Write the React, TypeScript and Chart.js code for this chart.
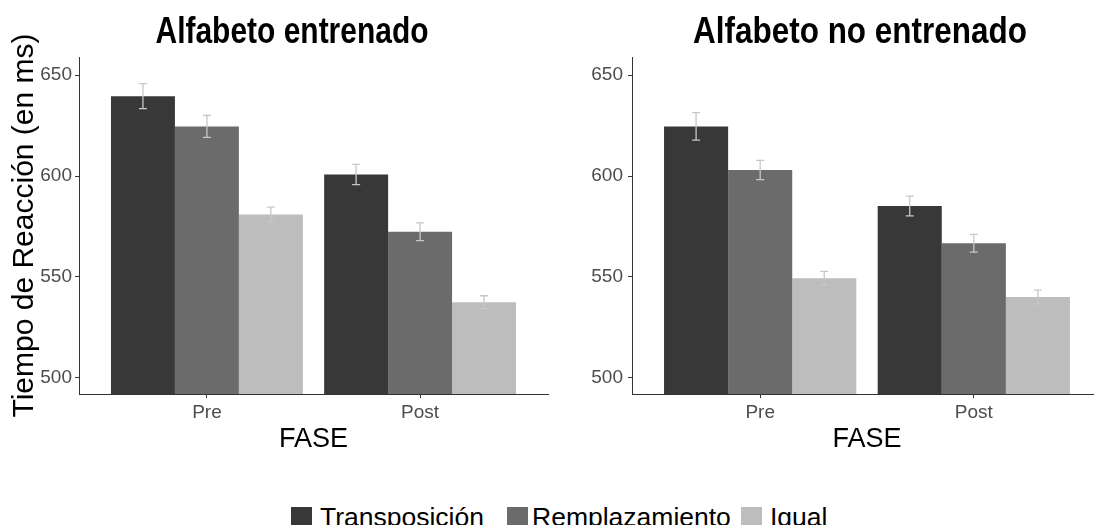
import React, { useEffect, useRef } from 'react';
import { Chart, registerables } from 'chart.js';

Chart.register(...registerables);

// ---------- data ----------
const categories = ['Pre', 'Post'];
const seriesNames = ['Transposición', 'Remplazamiento', 'Igual'];
const seriesColors = ['#383838', '#6b6b6b', '#bdbdbd'];
const yTicks = [500, 550, 600, 650];

// Alfabeto entrenado
const trainedTransposicion = [639.6, 600.8];
const trainedRemplazamiento = [624.6, 572.4];
const trainedIgual = [581.0, 537.5];
const trainedTransposicionSE = [6.2, 5.0];
const trainedRemplazamientoSE = [5.4, 4.4];
const trainedIgualSE = [3.6, 3.2];

// Alfabeto no entrenado
const untrainedTransposicion = [624.6, 585.2];
const untrainedRemplazamiento = [603.0, 566.7];
const untrainedIgual = [549.4, 540.1];
const untrainedTransposicionSE = [6.8, 4.9];
const untrainedRemplazamientoSE = [4.8, 4.4];
const untrainedIgualSE = [3.4, 3.4];

const FONT = '"Liberation Sans", Arial, Helvetica, sans-serif';

const errorBarPlugin = {
  id: 'errorBars',
  afterDatasetsDraw(chart: any, _args: any, opts: any) {
    const { ctx } = chart;
    const yScale = chart.scales.y;
    const errs: number[][] = opts.errors || [];
    ctx.save();
    ctx.strokeStyle = opts.color;
    ctx.lineWidth = opts.width;
    chart.data.datasets.forEach((ds: any, i: number) => {
      const meta = chart.getDatasetMeta(i);
      meta.data.forEach((el: any, j: number) => {
        const v = ds.data[j].y;
        const e = errs[i][j];
        const x = el.x;
        const t = yScale.getPixelForValue(v + e);
        const b = yScale.getPixelForValue(v - e);
        ctx.beginPath();
        ctx.moveTo(x, t);
        ctx.lineTo(x, b);
        ctx.moveTo(x - opts.cap, t);
        ctx.lineTo(x + opts.cap, t);
        ctx.moveTo(x - opts.cap, b);
        ctx.lineTo(x + opts.cap, b);
        ctx.stroke();
      });
    });
    ctx.restore();
  },
};

// Condensed bold panel title (the reference uses a narrow bold face)
const panelTitlePlugin = {
  id: 'panelTitle',
  afterDraw(chart: any, _args: any, opts: any) {
    const { ctx } = chart;
    ctx.save();
    ctx.font = `bold ${opts.size}px ${FONT}`;
    ctx.fillStyle = '#000000';
    ctx.textAlign = 'center';
    ctx.textBaseline = 'alphabetic';
    const w = ctx.measureText(opts.text).width;
    const sx = opts.targetWidth / w;
    ctx.translate(opts.x, opts.baseline);
    ctx.scale(sx, 1);
    ctx.fillText(opts.text, 0, 0);
    ctx.restore();
  },
};

type Panel = {
  title: string;
  titleX: number;
  titleWidth: number;
  series: number[][];
  errors: number[][];
  yTitle: string | null;
  yAxisWidth: number;
  padRight: number;
  tickPad: number;
};

function makeConfig(p: Panel): any {
  return {
    type: 'bar',
    data: {
      datasets: p.series.map((vals, i) => ({
        label: seriesNames[i],
        data: vals.map((v, j) => ({ x: j + 1, y: v })),
        backgroundColor: seriesColors[i],
        borderWidth: 0,
        categoryPercentage: 0.9,
        barPercentage: 1.0,
      })),
    },
    options: {
      responsive: false,
      animation: false,
      devicePixelRatio: 1,
      layout: { padding: { left: 0, right: p.padRight, top: 57, bottom: 0 } },
      plugins: {
        legend: { display: false },
        tooltip: { enabled: false },
        title: { display: false },
        panelTitle: { text: p.title, x: p.titleX, baseline: 43, size: 36, targetWidth: p.titleWidth },
        errorBars: { errors: p.errors, color: '#c3c9c9', width: 1.3, cap: 4 },
      },
      scales: {
        x: {
          type: 'linear',
          min: 0.4,
          max: 2.6,
          offset: false,
          afterBuildTicks: (s: any) => {
            s.ticks = categories.map((_, i) => ({ value: i + 1 }));
          },
          afterFit: (s: any) => {
            s.height = 76;
          },
          ticks: {
            callback: (_v: any, i: number) => categories[i],
            color: '#4d4d4d',
            font: { family: FONT, size: 19 },
            padding: 3,
            maxRotation: 0,
          },
          grid: {
            offset: false,
            drawOnChartArea: false,
            drawTicks: true,
            tickLength: 4,
            color: '#333333',
            tickColor: '#333333',
          },
          border: { display: true, color: '#333333', width: 1 },
          title: {
            display: true,
            text: 'FASE',
            color: '#000000',
            font: { family: FONT, size: 27 },
            padding: { top: 0, bottom: 14 },
          },
        },
        y: {
          type: 'linear',
          min: 492,
          max: 659,
          afterBuildTicks: (s: any) => {
            s.ticks = yTicks.map((v) => ({ value: v }));
          },
          afterFit: (s: any) => {
            s.width = p.yAxisWidth;
          },
          ticks: {
            color: '#4d4d4d',
            font: { family: FONT, size: 19 },
            padding: p.tickPad,
          },
          grid: { drawOnChartArea: false, drawTicks: true, tickLength: 4, color: '#333333', tickColor: '#333333' },
          border: { display: true, color: '#333333', width: 1 },
          title: {
            display: !!p.yTitle,
            text: p.yTitle || '',
            color: '#000000',
            font: { family: FONT, size: 30 },
            padding: { top: 7, bottom: 0 },
          },
        },
      },
    },
    plugins: [errorBarPlugin, panelTitlePlugin],
  };
}

const leftPanel: Panel = {
  title: 'Alfabeto entrenado',
  titleX: 292,
  titleWidth: 273,
  series: [trainedTransposicion, trainedRemplazamiento, trainedIgual],
  errors: [trainedTransposicionSE, trainedRemplazamientoSE, trainedIgualSE],
  yTitle: 'Tiempo de Reacción (en ms)',
  yAxisWidth: 79,
  padRight: 35,
  tickPad: 3,
};

const rightPanel: Panel = {
  title: 'Alfabeto no entrenado',
  titleX: 300,
  titleWidth: 334,
  series: [untrainedTransposicion, untrainedRemplazamiento, untrainedIgual],
  errors: [untrainedTransposicionSE, untrainedRemplazamientoSE, untrainedIgualSE],
  yTitle: null,
  yAxisWidth: 72,
  padRight: 58,
  tickPad: 5,
};

function PanelChart({ panel, left, width, height }: { panel: Panel; left: number; width: number; height: number }) {
  const ref = useRef<HTMLCanvasElement | null>(null);
  useEffect(() => {
    if (!ref.current) return;
    const chart = new Chart(ref.current, makeConfig(panel));
    return () => chart.destroy();
  }, [panel]);
  return (
    <canvas
      ref={ref}
      width={width}
      height={height}
      style={{ position: 'absolute', left, top: 0, width, height }}
    />
  );
}

const legendSquareX = [291, 507, 741];
const legendTextX = [320, 532, 770];

export default function App() {
  return (
    <div
      style={{
        position: 'fixed',
        left: 0,
        top: 0,
        width: 1094,
        height: 525,
        overflow: 'hidden',
        background: '#ffffff',
      }}
    >
      <PanelChart panel={leftPanel} left={0} width={583} height={470} />
      <PanelChart panel={rightPanel} left={560} width={600} height={470} />
      {seriesNames.map((name, i) => (
        <React.Fragment key={name}>
          <div
            style={{
              position: 'absolute',
              left: legendSquareX[i],
              top: 507,
              width: 21,
              height: 21,
              background: seriesColors[i],
            }}
          />
          <div
            style={{
              position: 'absolute',
              left: legendTextX[i],
              top: 503.5,
              fontFamily: FONT,
              fontSize: 26.5,
              lineHeight: '26px',
              color: '#000000',
              whiteSpace: 'nowrap',
            }}
          >
            {name}
          </div>
        </React.Fragment>
      ))}
    </div>
  );
}
